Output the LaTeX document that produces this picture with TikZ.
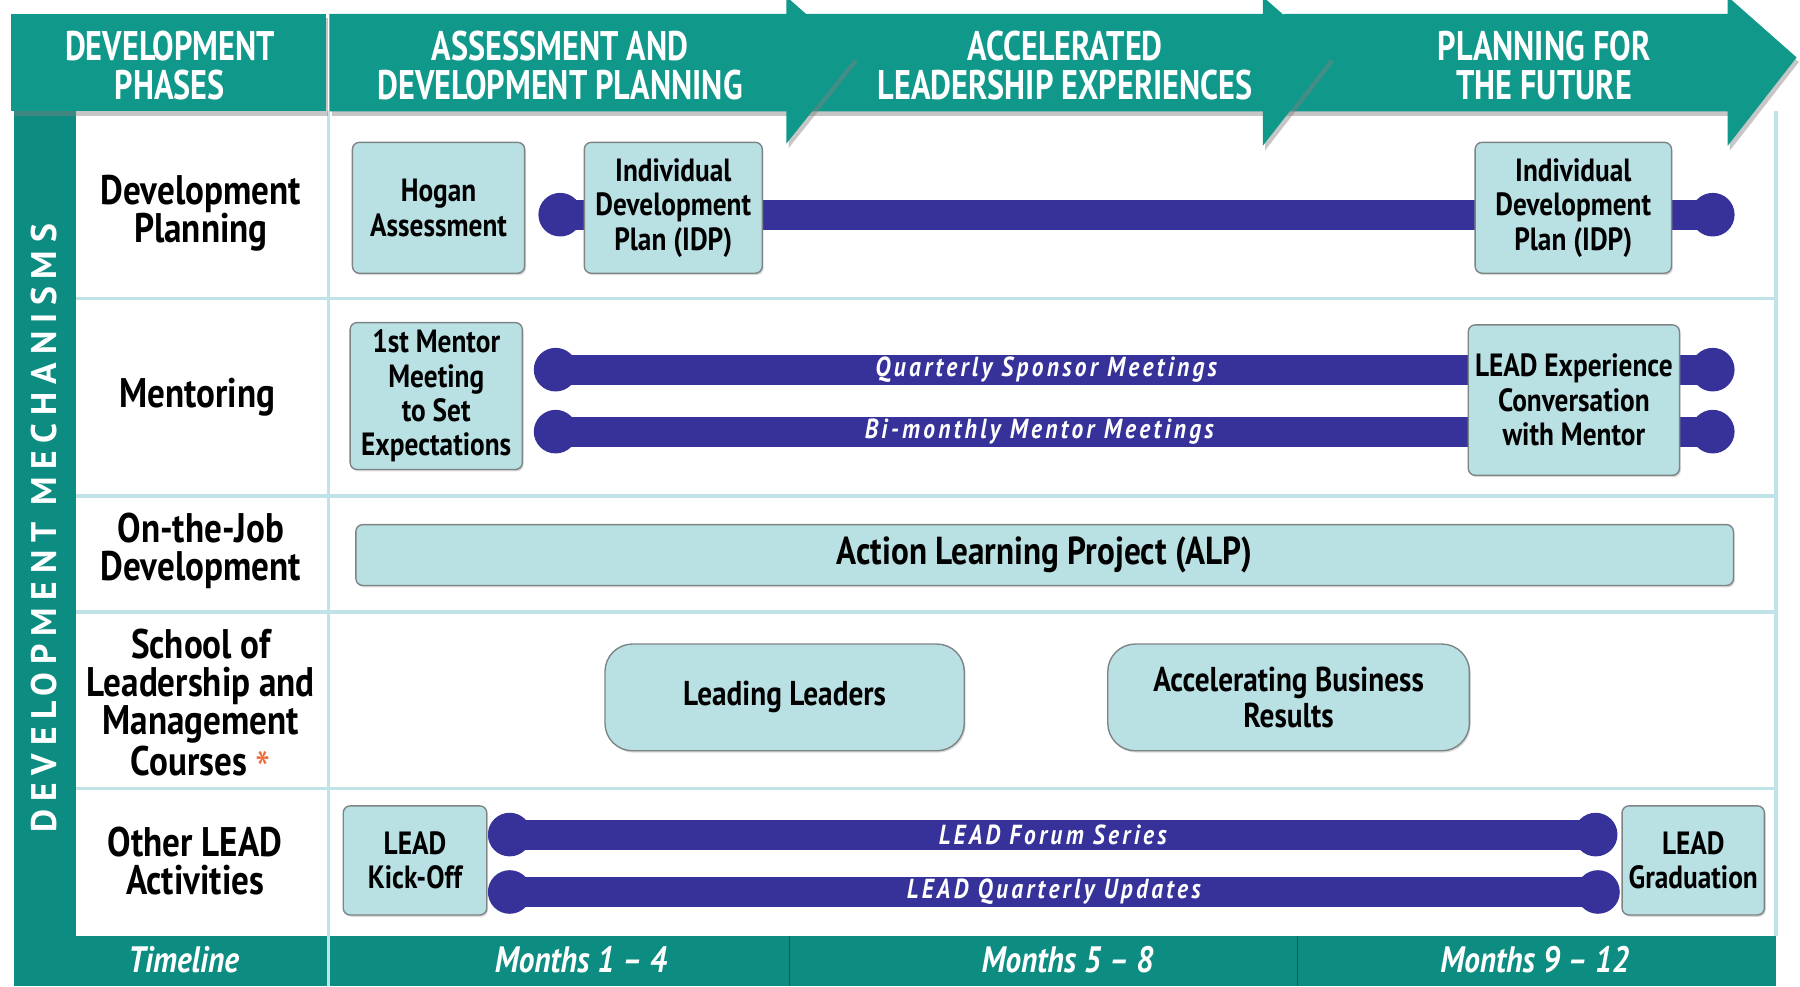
\documentclass[tikz,border=0pt]{standalone}
\usepackage{fontspec}
\setmainfont{PT Sans}[FakeStretch=0.85]
\newfontfamily\hdrfont{PT Sans}[FakeStretch=0.78]
\newfontfamily\barfont{PT Sans}[FakeStretch=0.85,LetterSpace=12]
\newfontfamily\mechfont{PT Sans}[LetterSpace=22]
\usetikzlibrary{positioning}
\usetikzlibrary{shadows}
\definecolor{teal1}{HTML}{10988B}
\definecolor{teal2}{HTML}{0D8C82}
\definecolor{gridline}{HTML}{BFE3E6}
\definecolor{boxfill}{HTML}{B9E0E3}
\definecolor{boxline}{HTML}{7D8486}
\definecolor{barblue}{HTML}{36329A}
\definecolor{starred}{HTML}{F26B3A}
\definecolor{darkdiv}{HTML}{24514C}

\begin{document}
\begin{tikzpicture}[x=0.5pt,y=-0.5pt]
\tikzstyle{phase}=[fill=teal1,drop shadow={shadow xshift=1pt,shadow yshift=-2pt,opacity=0.45}]
\tikzstyle{phasetext}=[text=white,align=center,font=\hdrfont\fontsize{18}{17}\selectfont\bfseries]
\tikzstyle{rowlabel}=[align=center,font=\fontsize{18}{16.5}\selectfont\bfseries]
\tikzstyle{item}=[draw=boxline,fill=boxfill,line width=0.6pt,rounded corners=3pt,
        align=center,inner sep=0pt,font=\fontsize{14}{15}\selectfont\bfseries,
        drop shadow={shadow xshift=0.6pt,shadow yshift=-0.8pt,opacity=0.3}]
\tikzstyle{course}=[item,rounded corners=12pt,font=\fontsize{15}{15.5}\selectfont\bfseries]
\tikzstyle{track}=[draw=barblue,line width=13pt]
\tikzstyle{knob}=[fill=barblue]
\tikzstyle{tracktext}=[text=white,inner sep=0pt,font=\barfont\fontsize{12}{12}\selectfont\bfseries\itshape]
\tikzstyle{grid}=[draw=gridline,line width=1.5pt]
\tikzstyle{months}=[text=white,font=\fontsize{16}{16}\selectfont\bfseries\itshape]
\useasboundingbox (0,0) rectangle (1568,859);
%bands
\fill[teal2] (12,97) rectangle (66,859);
\fill[teal2] (12,815) rectangle (1547,859);
\draw[grid] (66,260) -- (1547,260);
\draw[grid] (66,432) -- (1547,432);
\draw[grid] (66,533) -- (1547,533);
\draw[grid] (66,687) -- (1547,687);
\draw[grid] (286,97) -- (286,859);
\draw[grid] (1547,97) -- (1547,815);
\draw[darkdiv,line width=0.6pt] (688,815) -- (688,859);
\draw[darkdiv,line width=0.6pt] (1130,815) -- (1130,859);
%phase arrows
\fill[phase] (1118,12) -- (1505,12) -- (1505,-3) -- (1565,50) -- (1505,127) -- (1505,97) -- (1118,97) -- cycle;
\fill[phase] (700,12) -- (1100,12) -- (1100,-3) -- (1160,50) -- (1100,127) -- (1100,97) -- (700,97) -- cycle;
\fill[phase] (287,12) -- (685,12) -- (685,-3) -- (745,50) -- (685,125) -- (685,97) -- (287,97) -- cycle;
\fill[phase] (10,12) rectangle (284,97);
\node[phasetext] (phases) at (148,57) {DEVELOPMENT\\PHASES};
\node[phasetext] (assess) at (488,57) {ASSESSMENT AND\\DEVELOPMENT PLANNING};
\node[phasetext] (accel) at (928,57) {ACCELERATED\\LEADERSHIP EXPERIENCES};
\node[phasetext] (future) at (1345,57) {PLANNING FOR\\THE FUTURE};
%row labels
\node[rowlabel,rotate=90,text=white,font=\mechfont\fontsize{15.5}{15.5}\selectfont\bfseries] (mech) at (38,460) {DEVELOPMENT MECHANISMS};
\node[rowlabel] (planning) at (175,186) {Development\\Planning};
\node[rowlabel] (mentoring) at (172,346) {Mentoring};
\node[rowlabel] (onjob) at (175,480) {On-the-Job\\Development};
\node[rowlabel] (school) at (175,617) {School of\\Leadership and\\Management\\Courses {\color{starred}\mdseries\raisebox{-0.3em}{\fontsize{22}{22}\selectfont*}}};
\node[rowlabel] (other) at (170,750) {Other LEAD\\Activities};
\node[months] (timeline) at (160,836) {Timeline};
\node[months] (mA) at (506,836) {Months 1 -- 4};
\node[months] (mB) at (930,836) {Months 5 -- 8};
\node[months] (mC) at (1337,836) {Months 9 -- 12};
%tracks
\coordinate (planL) at (488,187);
\coordinate (planR) at (1492,187);
\coordinate (sponsorL) at (484,322);
\coordinate (sponsorR) at (1492,322);
\coordinate (mentorL) at (484,376);
\coordinate (mentorR) at (1492,376);
\coordinate (forumL) at (444,727);
\coordinate (forumR) at (1390,727);
\coordinate (updateL) at (444,777);
\coordinate (updateR) at (1392,777);
\draw[track] (planL) -- (planR);
\draw[track] (sponsorL) -- (sponsorR) node[tracktext,pos=0.424]{Quarterly Sponsor Meetings};
\draw[track] (mentorL) -- (mentorR) node[tracktext,pos=0.418]{Bi-monthly Mentor Meetings};
\draw[track] (forumL) -- (forumR) node[tracktext,midway]{LEAD Forum Series};
\draw[track] (updateL) -- (updateR) node[tracktext,midway]{LEAD Quarterly Updates};
\foreach \k in {planL,planR,sponsorL,sponsorR,mentorL,mentorR,forumL,forumR,updateL,updateR}
  \fill[knob] (\k) circle[radius=9.5pt];
%boxes
\node[item,minimum width=75pt,minimum height=57pt] (hogan) at (382,181) {Hogan\\Assessment};
\node[item,minimum width=77.5pt,minimum height=57pt] (idpA) at (586.5,181) {Individual\\Development\\Plan (IDP)};
\node[item,minimum width=85.5pt,minimum height=57pt] (idpB) at (1370.5,181) {Individual\\Development\\Plan (IDP)};
\node[item,minimum width=75pt,minimum height=64pt] (firstmeet) at (380,345) {1st Mentor\\Meeting\\to Set\\Expectations};
\node[item,minimum width=92pt,minimum height=65.5pt] (convo) at (1371,348.5) {LEAD Experience\\Conversation\\with Mentor};
\node[item,minimum width=600pt,minimum height=26.5pt,font=\fontsize{17}{17}\selectfont\bfseries] (alp) at (910,483.5) {Action Learning Project (ALP)};
\node[course,minimum width=156.5pt,minimum height=46.5pt] (leading) at (683.5,607.5) {Leading Leaders};
\node[course,minimum width=157.5pt,minimum height=46.5pt] (business) at (1122.5,607.5) {Accelerating Business\\Results};
\node[item,minimum width=62.5pt,minimum height=47.5pt] (kickoff) at (361.5,749.5) {LEAD\\Kick-Off};
\node[item,minimum width=62pt,minimum height=47.5pt] (grad) at (1475,749.5) {LEAD\\Graduation};
\end{tikzpicture}
\end{document}
